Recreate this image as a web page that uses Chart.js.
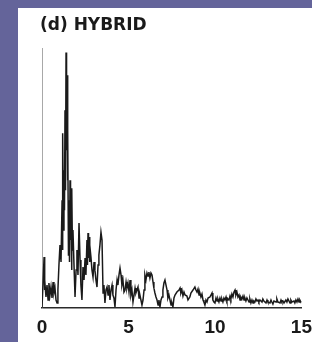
<!DOCTYPE html>
<html>
<head>
<meta charset="utf-8">
<script src="https://cdn.jsdelivr.net/npm/chart.js@4/dist/chart.umd.min.js"></script>
<style>
  html, body { margin: 0; padding: 0; }
  body { width: 312px; height: 342px; background: #64649a; position: relative; overflow: hidden; }
  #panel { position: absolute; left: 18px; top: 8px; width: 294px; height: 334px; background: #ffffff; }
  canvas { display: block; }
</style>
</head>
<body>
<div id="panel"><canvas id="c" width="294" height="334"></canvas></div>
<script>
const titleText = '(d) HYBRID';
const xTicks = [0, 5, 10, 15];

const freq = [
  0.00,0.06,0.12,0.14,0.17,0.23,0.29,0.35,0.40,0.46,0.52,0.58,0.64,0.69,0.75,0.81,0.87,0.92,0.98,1.04,
  1.10,1.16,1.18,1.21,1.24,1.27,1.30,1.33,1.36,1.39,1.42,1.45,1.47,1.50,1.53,1.56,1.59,1.62,1.65,1.68,
  1.71,1.73,1.76,1.79,1.85,1.91,1.97,2.02,2.08,2.14,2.20,2.25,2.31,2.37,2.43,2.49,2.54,2.60,2.63,2.66,
  2.69,2.72,2.75,2.77,2.83,2.89,2.95,3.01,3.06,3.12,3.18,3.24,3.29,3.35,3.41,3.47,3.53,3.58,3.64,3.70,
  3.76,3.82,3.87,3.93,3.99,4.05,4.10,4.16,4.22,4.28,4.34,4.39,4.45,4.51,4.57,4.62,4.68,4.74,4.80,4.86,
  4.91,4.97,5.03,5.09,5.14,5.20,5.26,5.32,5.38,5.43,5.49,5.55,5.61,5.66,5.72,5.78,5.84,5.90,5.95,6.01,
  6.07,6.13,6.18,6.24,6.30,6.36,6.42,6.47,6.53,6.59,6.65,6.71,6.76,6.82,6.88,6.94,6.99,7.05,7.11,7.17,
  7.23,7.28,7.34,7.40,7.46,7.51,7.57,7.63,7.69,7.80,7.92,7.98,8.03,8.09,8.15,8.21,8.27,8.38,8.44,8.55,
  8.61,8.73,8.84,8.90,8.96,9.02,9.08,9.13,9.19,9.25,9.31,9.36,9.42,9.48,9.54,9.60,9.71,9.77,9.83,9.88,
  9.94,10.00,10.06,10.12,10.17,10.23,10.29,10.35,10.40,10.46,10.52,10.58,10.64,10.69,10.75,10.81,10.87,10.92,10.98,11.04,
  11.10,11.16,11.21,11.27,11.33,11.39,11.45,11.50,11.56,11.62,11.68,11.73,11.79,11.85,11.91,11.97,12.02,12.08,12.14,12.20,
  12.25,12.31,12.37,12.43,12.49,12.54,12.60,12.72,12.77,12.83,12.95,13.01,13.06,13.18,13.24,13.29,13.35,13.41,13.53,13.58,
  13.64,13.76,13.82,13.87,13.93,13.99,14.10,14.16,14.22,14.34,14.39,14.45,14.57,14.62,14.68,14.74,14.80,14.86,14.91,14.97,
  15.00
];

const amp = [
  0,25,51,18,28,11,23,8,25,13,21,10,26,15,20,8,5,18,43,63,
  46,108,58,175,78,138,98,198,118,256,158,233,128,178,53,108,46,128,68,98,
  38,120,58,78,43,11,38,58,33,85,48,23,8,41,28,50,33,68,43,75,
  50,71,46,63,51,38,31,46,38,28,21,43,53,63,76,68,15,23,5,18,
  21,13,23,8,18,23,13,10,1,18,28,23,33,40,33,23,28,16,18,26,
  20,25,16,28,13,18,6,13,20,15,18,21,10,13,8,3,8,18,33,28,
  35,32,36,30,35,33,26,20,15,11,8,3,8,1,8,11,18,25,28,23,
  18,10,13,8,3,5,1,10,13,16,18,20,15,18,12,16,13,12,8,11,
  15,18,21,18,16,19,13,15,11,14,8,6,3,8,6,10,11,13,15,8,
  6,5,10,7,9,6,10,7,9,6,10,8,11,7,9,8,12,9,14,11,
  16,18,13,16,11,13,8,11,9,12,8,10,7,10,8,6,9,5,8,5,
  7,6,9,7,8,6,8,6,9,7,5,8,6,5,8,6,4,7,6,9,
  6,5,8,6,7,5,8,6,9,5,8,6,7,5,8,6,9,6,8,6,
  7
];

const points = freq.map((x, i) => ({ x: x, y: amp[i] }));

new Chart(document.getElementById('c'), {
  type: 'line',
  data: {
    datasets: [{
      data: points,
      borderColor: '#1a1a1a',
      borderWidth: 1.5,
      pointRadius: 0,
      tension: 0,
      fill: false
    }]
  },
  options: {
    responsive: false,
    animation: false,
    layout: { padding: { left: 22, right: 10, top: 0, bottom: 0 } },
    plugins: {
      legend: { display: false },
      tooltip: { enabled: false },
      title: {
        display: true,
        text: titleText,
        align: 'start',
        color: '#1a1a1a',
        font: { family: '"DejaVu Sans", sans-serif', size: 17, weight: 'bold' },
        padding: { top: 7, bottom: 13 }
      }
    },
    scales: {
      x: {
        type: 'linear',
        min: 0,
        max: 15,
        afterFit: (s) => { s.height = 34; },
        afterBuildTicks: (s) => { s.ticks = xTicks.map(v => ({ value: v })); },
        grid: { display: false },
        border: { display: true, color: '#2a2a2a', width: 1.5 },
        ticks: {
          color: '#1a1a1a',
          padding: 0,
          maxRotation: 0,
          font: { family: '"Liberation Sans", Arial, sans-serif', size: 19, weight: 'bold' }
        }
      },
      y: {
        min: 0,
        max: 260,
        afterFit: (s) => { s.width = 2; },
        grid: { display: false },
        border: { display: true, color: '#a8a8a8', width: 1, dash: [2, 2] },
        ticks: { display: false }
      }
    }
  }
});
</script>
</body>
</html>
